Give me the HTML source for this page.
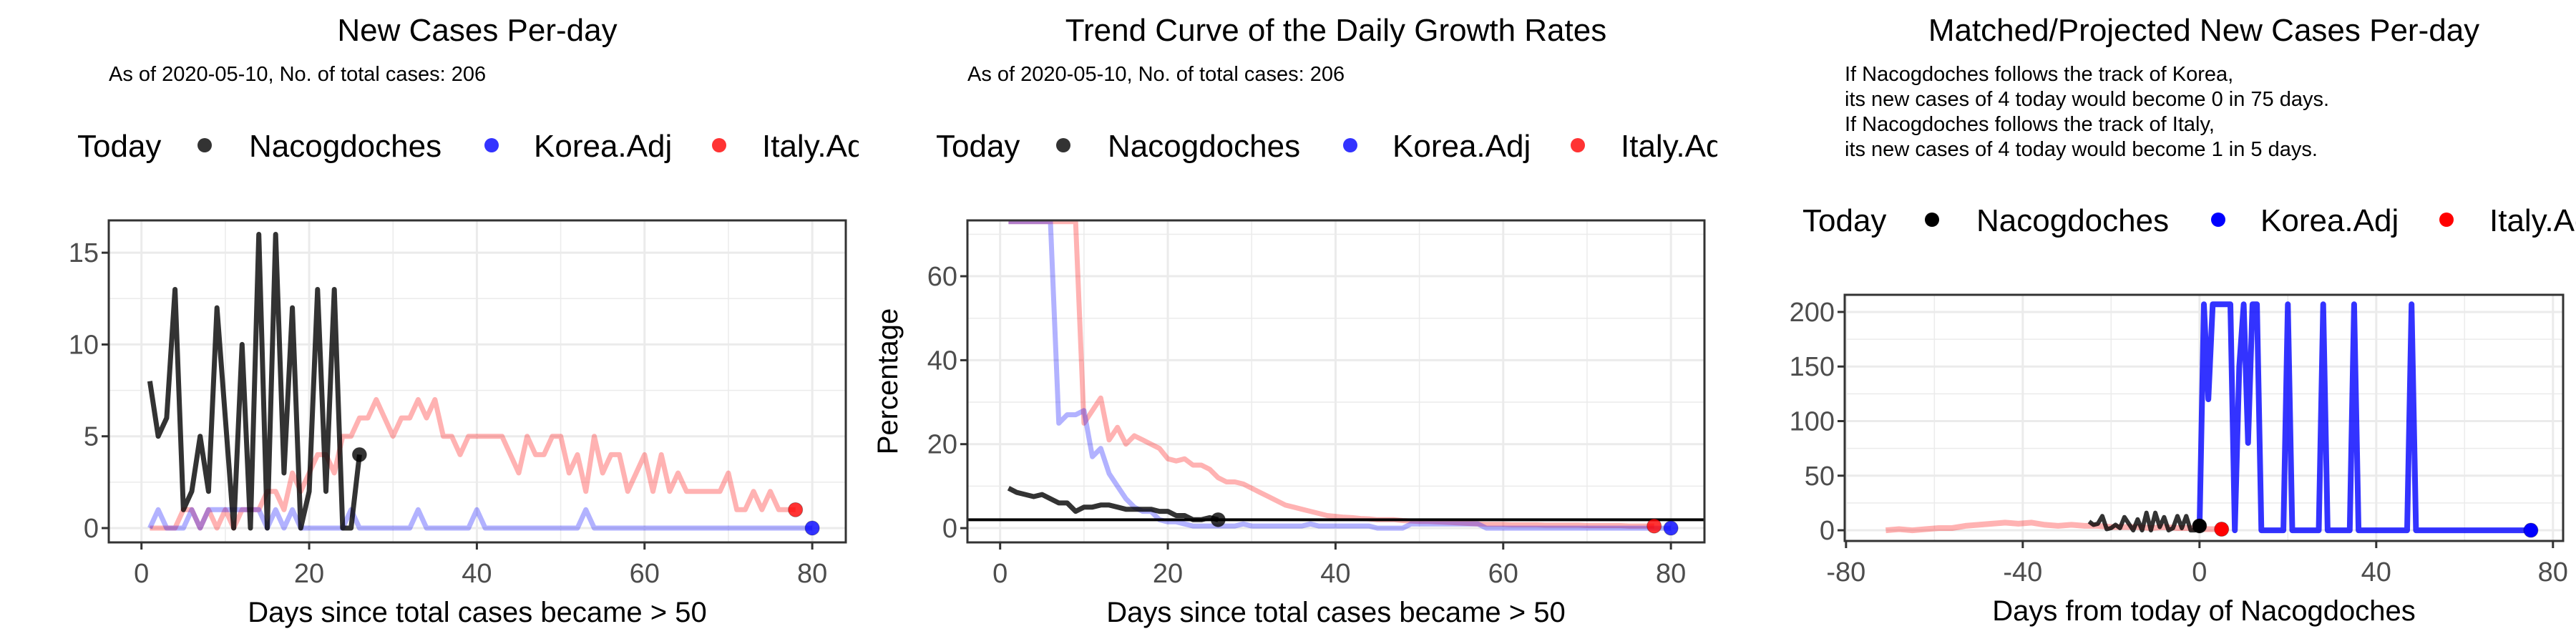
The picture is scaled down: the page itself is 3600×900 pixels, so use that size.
<!DOCTYPE html>
<html><head><meta charset="utf-8"><style>
html,body{margin:0;padding:0;background:#fff;}
svg{display:block;font-family:"Liberation Sans",Arial,sans-serif;}
</style></head><body>
<svg id="chart" width="3600" height="900" viewBox="0 0 3600 900" xmlns="http://www.w3.org/2000/svg">
<rect width="3600" height="900" fill="#fff"/>
</svg>
<script>
// ---------- data ----------
const p1Days = [1,2,3,4,5,6,7,8,9,10,11,12,13,14,15,16,17,18,19,20,21,22,23,24,25,26];
const p1Nacog = [8,5,6,13,1,2,5,2,12,6,0,10,0,16,0,16,3,12,0,2,13,2,13,0,0,4];
const p1Korea = [0,1,0,0,0,1,0,1,1,1,1,1,1,1,0,1,0,1,0,0,0,0,0,0,1,0,0,0,0,0,0,0,1,0,0,0,0,0,0,1,0,0,0,0,0,0,0,0,0,0,0,0,1,0,0,0,0,0,0,0,0,0,0,0,0,0,0,0,0,0,0,0,0,0,0,0,0,0,0,0];
const p1Italy = [0,0,0,0,1,1,0,1,0,1,0,1,1,1,2,2,1,3,2,3,4,4,3,5,5,6,6,7,6,5,6,6,7,6,7,5,5,4,5,5,5,5,5,4,3,5,4,4,5,5,3,4,2,5,3,4,4,2,3,4,2,4,2,3,2,2,2,2,2,3,1,1,2,1,2,1,1,1];
const p2Nacog = [9.5,8.5,8,7.5,8,7,6,6,4,5,5,5.5,5.5,5,4.5,4.5,4.5,4.5,4,4,3,3,2,2,2.5,2];
const p2Korea = [73,73,73,73,73,73,25,27,27,28,17,19,13,10,7,5,4,4,2,1.5,1.5,1,0.5,0.5,0.5,0.5,0.5,0.5,1,0.5,0.5,0.5,0.5,0.5,0.5,0.5,1,0.5,0.5,0.5,0.5,0.5,0.5,0.5,0,0,0,0,1,1,1,1,1,1,1,1,1,0,0,0,0,0,0,0,0,0,0,0,0,0,0,0,0,0,0,0,0,0,0,0];
const p2Italy = [73,73,73,73,73,73,73,73,73,25,28,31,21,24,20,22,21,20,19,16.5,16,16.5,15,15,14,12,11,11,10.5,9.5,8.5,7.5,6.5,5.5,5,4.5,4,3.5,3,2.8,2.6,2.5,2.3,2.2,2,2,2,1.8,1.7,1.6,1.6,1.5,1.4,1.3,1.2,1.1,1,0.9,0.9,0.9,0.8,0.8,0.8,0.8,0.7,0.7,0.7,0.7,0.7,0.6,0.6,0.6,0.6,0.6,0.5,0.5,0.5,0.5];
const p3ItalyDays = [-71,-68,-65,-62,-59,-56,-53,-50,-47,-44,-41,-38,-35,-32,-29,-26,-23,-20,-17,-14,-11,-8,-5,-2,1,3,5];
const p3Italy = [0,1,0,1,2,2,4,5,6,7,6,7,5,4,5,4,4,3,3,3,2,3,2,2,1,1,1];
const p3NacogDays = [-25,-24,-23,-22,-21,-20,-19,-18,-17,-16,-15,-14,-13,-12,-11,-10,-9,-8,-7,-6,-5,-4,-3,-2,-1,0];
const p3Korea = [0,207,120,207,207,207,207,207,0,150,207,80,207,207,0,0,0,0,0,0,207,0,0,0,0,0,0,0,207,0,0,0,0,0,0,207,0,0,0,0,0,0,0,0,0,0,0,0,207,0,0,0,0,0,0,0,0,0,0,0,0,0,0,0,0,0,0,0,0,0,0,0,0,0,0,0];
const xTicks12 = [0,20,40,60,80];
const yTicks1 = [0,5,10,15];
const yTicks2 = [0,20,40,60];
const xTicks3 = [-80,-40,0,40,80];
const yTicks3 = [0,50,100,150,200];

const NS = "http://www.w3.org/2000/svg";
const svg = document.getElementById('chart');
function mk(tag, attrs, parent){const e=document.createElementNS(NS,tag);for(const k in attrs)e.setAttribute(k,attrs[k]);(parent||svg).appendChild(e);return e;}
function txt(s, attrs, parent){const e=mk('text',attrs,parent);e.textContent=s;return e;}

function panel(o){
  const g = mk('g',{});
  
  
  const X = v => o.x0 + (v - o.xd[0])/(o.xd[1]-o.xd[0])*(o.x1-o.x0);
  const Y = v => o.y1 - (v - o.yd[0])/(o.yd[1]-o.yd[0])*(o.y1-o.y0);
  const clipId = o.name+'-clip';
  const cp = mk('clipPath',{id:clipId},g); mk('rect',{x:o.x0,y:o.y0,width:o.x1-o.x0,height:o.y1-o.y0},cp);
  // minor grid
  o.xMinor.forEach(v=>mk('line',{x1:X(v),x2:X(v),y1:o.y0,y2:o.y1,stroke:'#ebebeb','stroke-width':1.5},g));
  o.yMinor.forEach(v=>mk('line',{x1:o.x0,x2:o.x1,y1:Y(v),y2:Y(v),stroke:'#ebebeb','stroke-width':1.5},g));
  o.xt.forEach(v=>mk('line',{x1:X(v),x2:X(v),y1:o.y0,y2:o.y1,stroke:'#ebebeb','stroke-width':3},g));
  o.yt.forEach(v=>mk('line',{x1:o.x0,x2:o.x1,y1:Y(v),y2:Y(v),stroke:'#ebebeb','stroke-width':3},g));
  const pg = mk('g',{'clip-path':'url(#'+clipId+')'},g);
  o.draw(pg,X,Y);
  mk('rect',{x:o.x0,y:o.y0,width:o.x1-o.x0,height:o.y1-o.y0,fill:'none',stroke:'#333','stroke-width':3},g);
  o.xt.forEach(v=>{
    mk('line',{x1:X(v),x2:X(v),y1:o.y1,y2:o.y1+10,stroke:'#333','stroke-width':3},g);
    const t=txt(String(v),{x:X(v),y:o.y1+56,'text-anchor':'middle','font-size':38,fill:'#4d4d4d'},g);
    
    
  });
  o.yt.forEach(v=>{
    mk('line',{x1:o.x0-10,x2:o.x0,y1:Y(v),y2:Y(v),stroke:'#333','stroke-width':3},g);
    const t=txt(String(v),{x:o.x0-14,y:Y(v)+13,'text-anchor':'end','font-size':38,fill:'#4d4d4d'},g);
    
    
  });
  const xt=txt(o.xTitle,{x:(o.x0+o.x1)/2,y:o.xTitleY,'text-anchor':'middle','font-size':40,fill:'#000'},g);
  
  
  return {X,Y,g};
}
function line(parent,xs,ys,X,Y,color,w,name){
  const d = xs.map((x,i)=>(i?'L':'M')+X(x).toFixed(1)+','+Y(ys[i]).toFixed(1)).join('');
  const p = mk('path',{d:d,fill:'none',stroke:color,'stroke-width':w,'stroke-linejoin':'round'},parent);
  
  
}
function pt(parent,x,y,color,name){
  const c = mk('circle',{cx:x,cy:y,r:10,fill:color,stroke:'rgba(0,0,0,0.3)','stroke-width':1},parent);
  
  
}
const seq = n => Array.from({length:n},(_,i)=>i+1);
const RED='rgba(255,0,0,0.3)', BLUE='rgba(0,0,255,0.3)', BLK='rgba(0,0,0,0.8)';

function legend(x0,offs,cy,cols){
  const g=mk('g',{});
  
  
  txt('Today',{x:x0,y:cy+16,'font-size':44},g);
  const names=['Nacogdoches','Korea.Adj','Italy.Adj'];
  names.forEach((n,i)=>{
    const c=mk('circle',{cx:x0+offs[i][0],cy:cy,r:10,fill:cols[i]},g);
    
    
    const t=txt(n,{x:x0+offs[i][1],y:cy+16,'font-size':44},g);
    
    
  });
  return g;
}

// ---------- panel 1 ----------
panel({name:'new-cases-panel',x0:152,x1:1182,y0:308,y1:758,xd:[-3.9,84],yd:[-0.78,16.76],
  xt:xTicks12,yt:yTicks1,xMinor:[10,30,50,70],yMinor:[2.5,7.5,12.5],
  xTitle:'Days since total cases became > 50',xTitleY:869,
  draw:(g,X,Y)=>{
    line(g,seq(p1Italy.length),p1Italy,X,Y,RED,7,'italy-line');
    line(g,seq(p1Korea.length),p1Korea,X,Y,BLUE,7,'korea-line');
    line(g,p1Days,p1Nacog,X,Y,BLK,7,'nacogdoches-line');
    pt(g,X(26),Y(4),'rgba(0,0,0,0.8)','nacogdoches-today-point');
    pt(g,X(78),Y(1),'rgba(255,0,0,0.8)','italy-today-point');
    pt(g,X(80),Y(0),'rgba(0,0,255,0.8)','korea-today-point');
  }});
// ---------- panel 2 ----------
panel({name:'growth-rate-panel',x0:1352,x1:2382,y0:308,y1:758,xd:[-3.9,84],yd:[-3.4,73.3],
  xt:xTicks12,yt:yTicks2,xMinor:[10,30,50,70],yMinor:[10,30,50,70],
  xTitle:'Days since total cases became > 50',xTitleY:869,
  draw:(g,X,Y)=>{
    line(g,seq(p2Italy.length),p2Italy,X,Y,RED,7,'italy-line');
    line(g,seq(p2Korea.length),p2Korea,X,Y,BLUE,7,'korea-line');
    line(g,p1Days,p2Nacog,X,Y,BLK,7,'nacogdoches-line');
    const h=mk('line',{x1:1352,x2:2382,y1:Y(2),y2:Y(2),stroke:'#000','stroke-width':4},g);
    
    
    pt(g,X(26),Y(2),'rgba(0,0,0,0.8)','nacogdoches-today-point');
    pt(g,X(78),Y(0.5),'rgba(255,0,0,0.8)','italy-today-point');
    pt(g,X(80),Y(0),'rgba(0,0,255,0.8)','korea-today-point');
  }});
const yt2=txt('Percentage',{x:0,y:0,'text-anchor':'middle','font-size':40,transform:'translate(1254,533) rotate(-90)'});


// ---------- panel 3 ----------
panel({name:'projected-panel',x0:2578,x1:3582,y0:412,y1:756,xd:[-80.3,82.3],yd:[-9.8,215.7],
  xt:xTicks3,yt:yTicks3,xMinor:[-60,-20,20,60],yMinor:[25,75,125,175],
  xTitle:'Days from today of Nacogdoches',xTitleY:867,
  draw:(g,X,Y)=>{
    line(g,p3ItalyDays,p3Italy,X,Y,'rgba(255,0,0,0.3)',8,'italy-line');
    line(g,p3Korea.map((v,i)=>i),p3Korea,X,Y,'rgba(0,0,255,0.8)',8,'korea-line');
    line(g,p3NacogDays,p1Nacog,X,Y,BLK,6,'nacogdoches-line');
    pt(g,X(0),Y(4),'#000','nacogdoches-today-point');
    pt(g,X(5),Y(1),'#f00','italy-today-point');
    pt(g,X(75),Y(0),'#00f','korea-today-point');
  }});

// ---------- titles ----------
function T(s,x,y,size,anchor,name){const t=txt(s,{x:x,y:y,'font-size':size,'text-anchor':anchor||'start'});return t;}
T('New Cases Per-day',667,57,44,'middle','chart-title');
T('As of 2020-05-10, No. of total cases: 206',152,113,29,'start','chart-subtitle');
T('Trend Curve of the Daily Growth Rates',1867,57,44,'middle','chart-title');
T('As of 2020-05-10, No. of total cases: 206',1352,113,29,'start','chart-subtitle');
T('Matched/Projected New Cases Per-day',3080,57,44,'middle','chart-title');
T('If Nacogdoches follows the track of Korea,',2578,113,29,'start','projection-note');
T('its new cases of 4 today would become 0 in 75 days.',2578,148,29,'start','projection-note');
T('If Nacogdoches follows the track of Italy,',2578,183,29,'start','projection-note');
T('its new cases of 4 today would become 1 in 5 days.',2578,218,29,'start','projection-note');

// legends (clipped at panel edges)
const lc1=mk('clipPath',{id:'lc1'});mk('rect',{x:0,y:0,width:1200,height:300},lc1);
const lc2=mk('clipPath',{id:'lc2'});mk('rect',{x:1200,y:0,width:1200,height:300},lc2);
const cols12=['rgba(0,0,0,0.8)','rgba(0,0,255,0.8)','rgba(255,0,0,0.8)'];
const offs=[[178,240],[579,638],[897,957]];
legend(108,offs,203,cols12).setAttribute('clip-path','url(#lc1)');
legend(1308,offs,203,cols12).setAttribute('clip-path','url(#lc2)');
legend(2519,[[181,243],[581,640],[900,960]],307,['#000','#00f','#f00']);
</script>
</body></html>
